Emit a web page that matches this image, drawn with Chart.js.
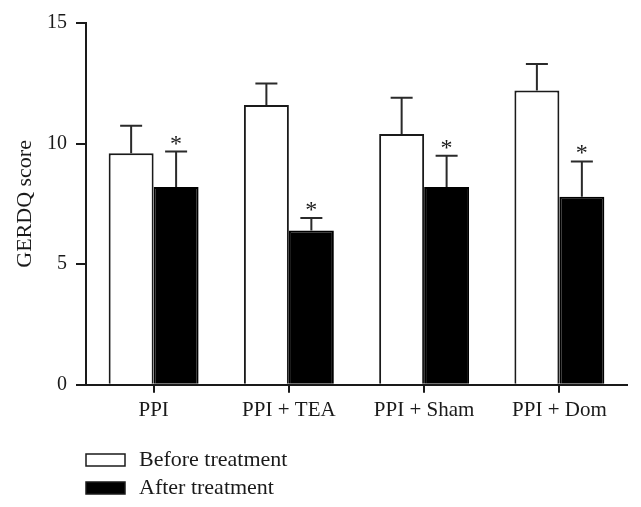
<!DOCTYPE html>
<html>
<head>
<meta charset="utf-8">
<script src="https://cdn.jsdelivr.net/npm/chart.js@4/dist/chart.umd.min.js"></script>
<style>
  html, body { margin: 0; padding: 0; background: #fff; }
  #wrap { width: 641px; height: 507px; }
</style>
</head>
<body>
<div id="wrap"><canvas id="chart" width="641" height="507"></canvas></div>
<script>
// data
const categories = ['PPI', 'PPI + TEA', 'PPI + Sham', 'PPI + Dom'];
const beforeValues = [9.6, 11.6, 10.4, 12.2];
const beforeErrors = [1.14, 0.89, 1.5, 1.1];
const afterValues = [8.2, 6.4, 8.2, 7.8];
const afterErrors = [1.47, 0.52, 1.3, 1.46];
const afterMarks = ['*', '*', '*', '*'];
const seriesLabels = ['Before treatment', 'After treatment'];

const serif = "'Liberation Serif', 'Times New Roman', serif";
const ink = '#1a1a1a';

// upward error bars + significance stars
const errorBars = {
  id: 'errorBars',
  afterDatasetsDraw(chart) {
    const ctx = chart.ctx;
    const y = chart.scales.y;
    const errs = [beforeErrors, afterErrors];
    ctx.save();
    ctx.strokeStyle = '#2a2a2a';
    ctx.lineWidth = 2;
    chart.data.datasets.forEach((ds, di) => {
      const meta = chart.getDatasetMeta(di);
      meta.data.forEach((bar, i) => {
        const top = y.getPixelForValue(ds.data[i] + errs[di][i]);
        ctx.beginPath();
        ctx.moveTo(bar.x, bar.y);
        ctx.lineTo(bar.x, top);
        ctx.moveTo(bar.x - 11, top);
        ctx.lineTo(bar.x + 11, top);
        ctx.stroke();
        if (di === 1 && afterMarks[i]) {
          ctx.fillStyle = ink;
          ctx.font = '24px ' + serif;
          ctx.textAlign = 'center';
          ctx.textBaseline = 'alphabetic';
          ctx.fillText(afterMarks[i], bar.x, top - 1);
        }
      });
    });
    ctx.restore();
  }
};

// stacked legend under the axis
const sideLegend = {
  id: 'sideLegend',
  afterDraw(chart) {
    const ctx = chart.ctx;
    ctx.save();
    ctx.font = '22px ' + serif;
    ctx.textBaseline = 'alphabetic';
    ctx.textAlign = 'left';
    chart.data.datasets.forEach((ds, i) => {
      const cy = 460 + i * 28;
      ctx.fillStyle = ds.backgroundColor;
      ctx.fillRect(86, cy - 6, 39, 12);
      ctx.strokeStyle = ink;
      ctx.lineWidth = 1.5;
      ctx.strokeRect(86, cy - 6, 39, 12);
      ctx.fillStyle = ink;
      ctx.fillText(ds.label, 139, cy + 6);
    });
    ctx.restore();
  }
};

new Chart(document.getElementById('chart'), {
  type: 'bar',
  data: {
    labels: categories,
    datasets: [
      {
        label: seriesLabels[0],
        data: beforeValues,
        backgroundColor: '#ffffff',
        borderColor: ink,
        borderWidth: 2
      },
      {
        label: seriesLabels[1],
        data: afterValues,
        backgroundColor: '#000000',
        borderColor: '#000000',
        borderWidth: 2
      }
    ]
  },
  options: {
    responsive: false,
    animation: false,
    layout: { padding: { top: 23, right: 14, bottom: 79, left: 4 } },
    datasets: {
      bar: { categoryPercentage: 0.665, barPercentage: 1 }
    },
    plugins: {
      legend: { display: false },
      tooltip: { enabled: false }
    },
    scales: {
      x: {
        grid: {
          display: true,
          drawOnChartArea: false,
          drawTicks: true,
          tickLength: 8,
          offset: false,
          color: ink,
          lineWidth: 2
        },
        border: { display: true, color: ink, width: 2 },
        ticks: {
          color: ink,
          padding: 5,
          font: { family: serif, size: 21 },
          maxRotation: 0
        }
      },
      y: {
        min: 0,
        max: 15,
        afterFit: (s) => { s.width = 82; },
        grid: {
          display: true,
          drawOnChartArea: false,
          drawTicks: true,
          tickLength: 10,
          color: ink,
          lineWidth: 2
        },
        border: { display: true, color: ink, width: 2 },
        ticks: {
          stepSize: 5,
          color: ink,
          padding: 9,
          font: { family: serif, size: 20 }
        },
        title: {
          display: true,
          text: 'GERDQ score',
          color: ink,
          font: { family: serif, size: 22 },
          padding: { top: 8, bottom: 0 }
        }
      }
    }
  },
  plugins: [errorBars, sideLegend]
});
</script>
</body>
</html>
